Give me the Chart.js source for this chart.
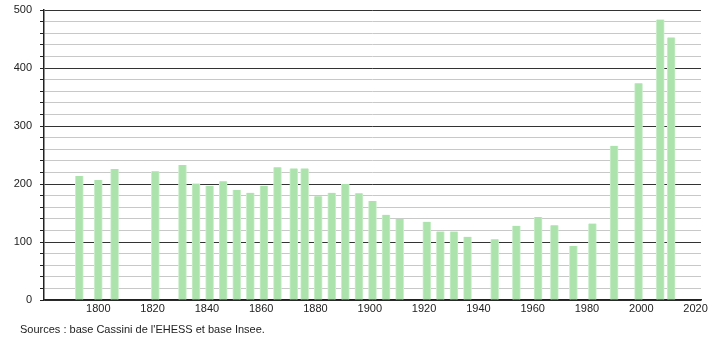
<!DOCTYPE html>
<html>
<head>
<meta charset="utf-8">
<script src="https://cdn.jsdelivr.net/npm/chart.js@4"></script>
<style>
  html, body { margin: 0; padding: 0; background: #ffffff; }
  #chart { display: block; }
</style>
</head>
<body>
<canvas id="chart" width="710" height="340"></canvas>
<script>
const years = [1793, 1800, 1806, 1821, 1831, 1836, 1841, 1846, 1851, 1856, 1861, 1866, 1872, 1876,
  1881, 1886, 1891, 1896, 1901, 1906, 1911, 1921, 1926, 1931, 1936, 1946, 1954, 1962, 1968,
  1975, 1982, 1990, 1999, 2007, 2011];
const population = [214, 207, 226, 222, 233, 201, 197, 205, 190, 185, 197, 229, 227, 227,
  179, 185, 200, 184, 171, 147, 140, 135, 118, 118, 109, 105, 128, 143, 129,
  93, 132, 266, 374, 484, 453];
const xTicks = [1800, 1820, 1840, 1860, 1880, 1900, 1920, 1940, 1960, 1980, 2000, 2020];
const sourceText = "Sources : base Cassini de l'EHESS et base Insee.";

const points = years.map((y, i) => ({ x: y, y: population[i] }));

const sourcePlugin = {
  id: "source",
  afterDraw(chart) {
    const ctx = chart.ctx;
    ctx.save();
    ctx.font = "11px 'Liberation Sans', Arial, sans-serif";
    ctx.fillStyle = "#222";
    ctx.textBaseline = "middle";
    ctx.fillText(sourceText, 20, 330);
    ctx.restore();
  },
};

new Chart(document.getElementById("chart"), {
  type: "bar",
  data: {
    datasets: [{
      data: points,
      backgroundColor: "#ace2ac",
      borderColor: "#cbeecb",
      borderWidth: { left: 1, right: 1, top: 0, bottom: 0 },
      borderSkipped: false,
      barThickness: 8,
    }],
  },
  options: {
    responsive: false,
    animation: false,
    layout: { padding: { top: 0, right: 9, left: 0, bottom: 0 } },
    plugins: { legend: { display: false }, tooltip: { enabled: false } },
    scales: {
      x: {
        type: "linear",
        offset: false,
        min: 1780,
        max: 2022,
        afterBuildTicks: (scale) => {
          scale.ticks = xTicks.map((v) => ({ value: v }));
        },
        afterFit: (scale) => { scale.height = 40; },
        grid: { display: false, drawTicks: false, tickLength: 0 },
        border: { display: true, color: "#222", width: 1.5 },
        ticks: {
          color: "#222",
          autoSkip: false,
          font: { family: "'Liberation Sans', Arial, sans-serif", size: 11 },
          maxRotation: 0,
          padding: 2,
          callback: (v) => String(v),
        },
      },
      y: {
        min: 0,
        max: 500,
        afterFit: (scale) => { scale.width = 44; },
        ticks: {
          stepSize: 20,
          autoSkip: false,
          color: "#222",
          font: { family: "'Liberation Sans', Arial, sans-serif", size: 11, lineHeight: 0.4 },
          padding: 8,
          callback: (v) => (v % 100 === 0 ? String(v) : ""),
        },
        grid: {
          color: (c) => (c.tick && c.tick.value % 100 === 0 ? "#333" : "#c8c8c8"),
          tickColor: "#222",
          tickLength: 4,
          lineWidth: 1,
        },
        border: { display: true, color: "#222", width: 1.5 },
      },
    },
  },
  plugins: [sourcePlugin],
});
</script>
</body>
</html>
